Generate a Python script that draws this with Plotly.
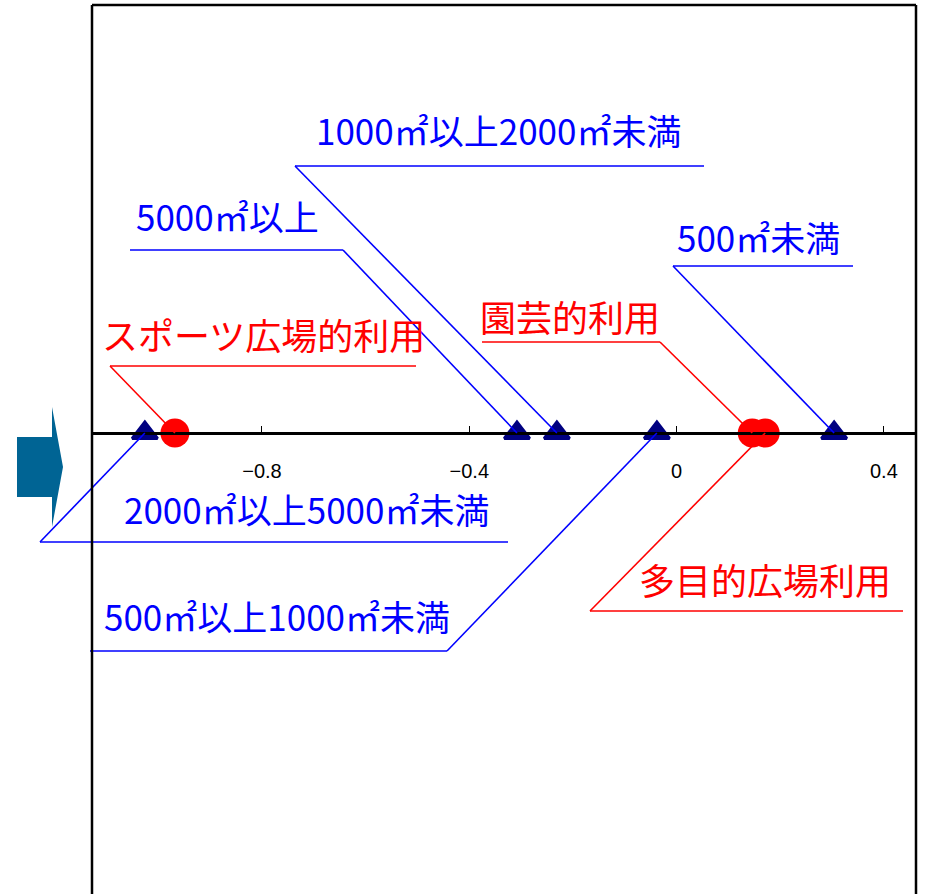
import plotly.graph_objects as go

# 対応分析の得点（第1軸）
area_labels = ["5000㎡以上", "2000㎡以上5000㎡未満", "1000㎡以上2000㎡未満", "500㎡以上1000㎡未満", "500㎡未満"]
area_scores = [-0.308, -1.026, -0.231, -0.038, 0.304]
use_labels = ["スポーツ広場的利用", "園芸的利用", "多目的広場利用"]
use_scores = [-0.968, 0.146, 0.171]
tick_vals = [-0.8, -0.4, 0, 0.4]
tick_text = ["\u22120.8", "\u22120.4", "0", "0.4"]

W, H = 925, 894
L, R, T, B = 92, 9, 5, 0
PW, PH = W - L - R, H - T - B
XR = [-1.128, 0.462]
YR = [-(H - B - 433), 433 - T]

BLUE, RED, NAVY = "#0000ff", "#ff0000", "#000080"
JP = "Noto Sans CJK JP"

# ラベル位置（ピクセル）: 文字中心x, 文字中心y, 下線x0, 下線x1, 下線y, 折れ点側
label_pos = {
    "5000㎡以上": (227, 215, 130, 343, 250, 1),
    "2000㎡以上5000㎡未満": (306, 508, 40, 508, 542, 0),
    "1000㎡以上2000㎡未満": (498, 129, 295, 704, 166, 0),
    "500㎡以上1000㎡未満": (277, 615, 90, 447, 651, 1),
    "500㎡未満": (758, 237, 673, 853, 266, 0),
    "スポーツ広場的利用": (263, 334, 110, 416, 366, 0),
    "園芸的利用": (570, 316, 482, 660, 342, 1),
    "多目的広場利用": (765, 579, 590, 903, 611, 0),
}


def px_x(p):
    return (p - L) / PW


def px_y(p):
    return (H - B - p) / PH


def data_x(v):
    return (v - XR[0]) / (XR[1] - XR[0])


y0_paper = (0 - YR[0]) / (YR[1] - YR[0])

fig = go.Figure()
fig.add_trace(go.Scatter(
    x=area_scores, y=[0] * len(area_scores), mode="markers",
    marker=dict(symbol="triangle-up", size=22, color=NAVY, line=dict(color=NAVY, width=3)),
    hoverinfo="text", hovertext=area_labels, showlegend=False, cliponaxis=False))
fig.add_trace(go.Scatter(
    x=use_scores, y=[0] * len(use_scores), mode="markers",
    marker=dict(symbol="circle", size=29, color=RED, line=dict(width=0)),
    hoverinfo="text", hovertext=use_labels, showlegend=False, cliponaxis=False))

shapes = []
annotations = []
for labels, scores, col, fs in [(area_labels, area_scores, BLUE, 35), (use_labels, use_scores, RED, 36)]:
    for lab, val in zip(labels, scores):
        cx, cy, x0, x1, ly, side = label_pos[lab]
        ex = x1 if side else x0
        shapes.append(dict(type="line", xref="paper", yref="paper",
                           x0=px_x(x0), x1=px_x(x1), y0=px_y(ly), y1=px_y(ly),
                           line=dict(color=col, width=1.6)))
        shapes.append(dict(type="line", xref="paper", yref="paper",
                           x0=px_x(ex), y0=px_y(ly), x1=data_x(val), y1=y0_paper,
                           line=dict(color=col, width=1.6)))
        annotations.append(dict(text=lab, xref="paper", yref="paper",
                                x=px_x(cx), y=px_y(cy), xanchor="center", yanchor="middle",
                                showarrow=False, font=dict(family=JP, size=fs, color=col)))

# 枠
for xa, ya, xb, yb in [(0, 0, 0, 1), (0, 1, 1, 1), (1, 1, 1, 0)]:
    shapes.append(dict(type="line", xref="paper", yref="paper", x0=xa, y0=ya, x1=xb, y1=yb,
                       line=dict(color="black", width=2.5)))

# 左の矢印
arrow_pts = [(17, 437), (52, 437), (52, 407), (63, 467), (52, 527), (52, 497), (17, 497)]
path = "M " + " L ".join(f"{px_x(a):.5f},{px_y(b):.5f}" for a, b in arrow_pts) + " Z"
shapes.append(dict(type="path", xref="paper", yref="paper", path=path,
                   fillcolor="#006494", line=dict(width=0)))

fig.update_layout(
    width=W, height=H, margin=dict(l=L, r=R, t=T, b=B),
    paper_bgcolor="white", plot_bgcolor="white",
    shapes=shapes, annotations=annotations, showlegend=False,
    xaxis=dict(range=XR, anchor="free", position=y0_paper, showline=True,
               linecolor="black", linewidth=2.5, showgrid=False, zeroline=False,
               ticks="inside", ticklen=6, tickwidth=1, tickcolor="black",
               tickvals=tick_vals, ticktext=tick_text, ticklabelstandoff=19,
               tickfont=dict(family="Liberation Sans", size=20, color="black")),
    yaxis=dict(range=YR, visible=False, showgrid=False, zeroline=False),
)

fig.write_html("out.html", config={"displayModeBar": False},
               post_script="document.body.style.margin='0';")
